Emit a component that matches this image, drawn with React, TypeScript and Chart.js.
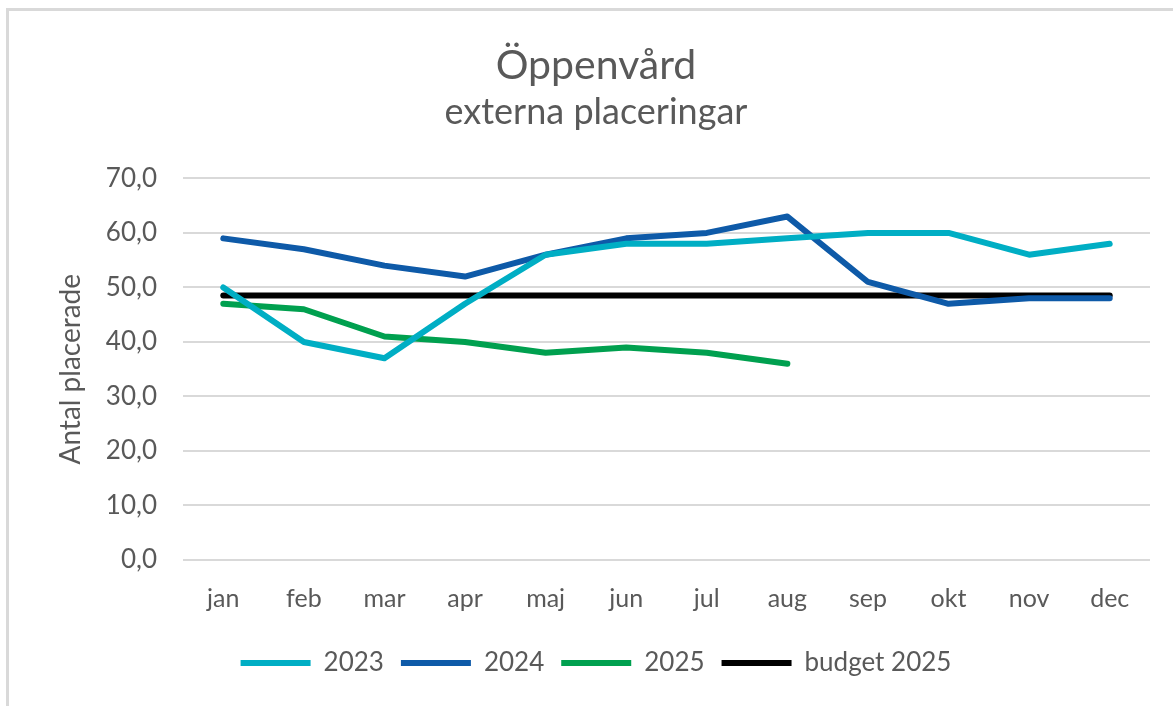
import React, { useEffect, useRef } from "react";
import { Chart, registerables } from "chart.js";

Chart.register(...registerables);

const months = ["jan", "feb", "mar", "apr", "maj", "jun", "jul", "aug", "sep", "okt", "nov", "dec"];
const values2023 = [50, 40, 37, 47, 56, 58, 58, 59, 60, 60, 56, 58];
const values2024 = [59, 57, 54, 52, 56, 59, 60, 63, 51, 47, 48, 48];
const values2025 = [47, 46, 41, 40, 38, 39, 38, 36];
const budget2025 = [48.5, 48.5, 48.5, 48.5, 48.5, 48.5, 48.5, 48.5, 48.5, 48.5, 48.5, 48.5];

const FONT = "Lato, 'Noto Sans', sans-serif";
const TEXT = "#595959";
const GRID = "#d9d9d9";

export default function App() {
  const ref = useRef<HTMLCanvasElement | null>(null);

  useEffect(() => {
    if (!ref.current) return;
    const mk = (label: string, data: number[], color: string) => ({
      label,
      data,
      borderColor: color,
      backgroundColor: color,
      borderWidth: 6,
      pointRadius: 0,
      pointHoverRadius: 0,
      borderCapStyle: "round" as const,
      borderJoinStyle: "round" as const,
      tension: 0,
      pointStyle: "line" as const,
    });
    const chart = new Chart(ref.current, {
      type: "line",
      data: {
        labels: months,
        datasets: [
          mk("2023", values2023, "#00AEC4"),
          mk("2024", values2024, "#0E5AA8"),
          mk("2025", values2025, "#00A04F"),
          mk("budget 2025", budget2025, "#000000"),
        ],
      },
      options: {
        animation: false,
        responsive: false,
        maintainAspectRatio: false,
        layout: { padding: { left: 33, right: 23, top: 0, bottom: 20 } },
        plugins: {
          title: {
            display: true,
            text: "Öppenvård",
            color: TEXT,
            font: { family: FONT, size: 41, weight: "normal" },
            padding: { top: 30, bottom: 1 },
          },
          subtitle: {
            display: true,
            text: "externa placeringar",
            color: TEXT,
            font: { family: FONT, size: 36, weight: "normal" },
            padding: { top: 0, bottom: 44 },
          },
          legend: {
            position: "bottom",
            labels: {
              color: TEXT,
              font: { family: FONT, size: 26 },
              usePointStyle: true,
              pointStyleWidth: 70,
              padding: 17,
            },
          },
          tooltip: { enabled: false },
        },
        scales: {
          x: {
            offset: true,
            grid: { display: false, drawTicks: false },
            border: { display: false },
            ticks: { color: TEXT, font: { family: FONT, size: 25 }, padding: 24 },
            afterFit: (s: any) => {
              s.height = 73;
            },
          },
          y: {
            min: 0,
            max: 70,
            grid: { color: GRID, lineWidth: 2, drawTicks: false },
            border: { display: false },
            ticks: {
              stepSize: 10,
              color: TEXT,
              font: { family: FONT, size: 26 },
              padding: 26,
              callback: (v: any) => Number(v).toFixed(1).replace(".", ","),
            },
            title: {
              display: true,
              text: "Antal placerade",
              color: TEXT,
              font: { family: FONT, size: 28 },
              padding: { top: 12, bottom: 0 },
            },
            afterFit: (s: any) => {
              s.width = 141;
            },
          },
        },
      },
    });
    return () => chart.destroy();
  }, []);

  return (
    <div
      style={{
        position: "absolute",
        left: 6,
        top: 8,
        width: 1167,
        height: 698,
        borderLeft: `3px solid ${GRID}`,
        borderTop: `3px solid ${GRID}`,
        background: "#fff",
        boxSizing: "border-box",
      }}
    >
      <canvas ref={ref} width={1164} height={695} style={{ display: "block" }} />
    </div>
  );
}
